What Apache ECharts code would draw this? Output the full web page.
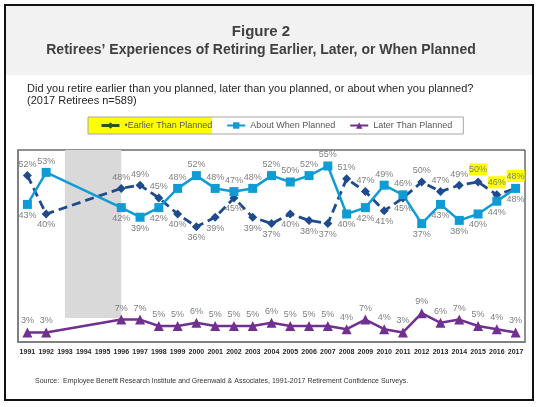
<!DOCTYPE html>
<html>
<head>
<meta charset="utf-8">
<script src="https://cdn.jsdelivr.net/npm/echarts@6/dist/echarts.min.js"></script>
<style>html,body{margin:0;padding:0;background:#fff;}#c{width:538px;height:407px;}</style>
</head>
<body>
<div id="c"></div>
<script>
const years = ['1991','1992','1993','1994','1995','1996','1997','1998','1999','2000','2001','2002','2003','2004','2005','2006','2007','2008','2009','2010','2011','2012','2013','2014','2015','2016','2017'];
const earlier = [52,40,null,null,null,48,49,45,40,36,39,45,39,37,40,38,37,51,47,41,45,50,47,49,50,46,48];
const about   = [43,53,null,null,null,42,39,42,48,52,48,47,48,52,50,52,55,40,42,49,46,37,43,38,40,44,48];
const later   = [3,3,null,null,null,7,7,5,5,6,5,5,5,6,5,5,5,4,7,4,3,9,6,7,5,4,3];
const earlierLabelPos = ['top','bottom',null,null,null,'top','top','top','bottom','bottom','bottom','bottom','bottom','bottom','bottom','bottom','bottom','top','top','bottom','bottom','top','top','top','top','top','top'];
const aboutLabelPos = ['bottom','top',null,null,null,'bottom','bottom','bottom','top','top','top','top','top','top','top','top','top','bottom','bottom','top','top','bottom','bottom','bottom','bottom','bottom','bottom'];
const highlightedEarlier = ['2015','2016','2017'];
const noDataFrom = '1993', noDataTo = '1996';
const names = ['Earlier Than Planned','About When Planned','Later Than Planned'];

const FONT = 'Liberation Sans';
const labelBase = {show:true, fontSize:9, color:'#7f7f7f', fontFamily:FONT, distance:2, formatter: p => p.value + '%'};

function build(vals, pos, hl) {
  return vals.map((v,i) => {
    if (v === null) return null;
    const item = {value:v, label:{position: pos ? pos[i] : 'top'}};
    if (hl && hl.includes(years[i])) {
      item.label.backgroundColor = '#ffff00';
      item.label.padding = [2,0,1,0];
    }
    return item;
  });
}

const chart = echarts.init(document.getElementById('c'), null, {renderer:'canvas'});
chart.setOption({
  animation:false,
  textStyle:{fontFamily:FONT},
  graphic:[
    {type:'rect', z:0, shape:{x:6,y:6,width:526,height:69}, style:{fill:'#f2f2f2'}},
    {type:'rect', z:0, shape:{x:5,y:5,width:528,height:395}, style:{fill:'none', stroke:'#111', lineWidth:2}},
    {type:'text', z:1, x:261, y:32, style:{text:'Figure 2', fill:'#404040', font:'bold 15px "Liberation Sans"', align:'center', verticalAlign:'middle'}},
    {type:'text', z:1, x:261, y:50, style:{text:"Retirees\u2019 Experiences of Retiring Earlier, Later, or When Planned", fill:'#404040', font:'bold 14px "Liberation Sans"', align:'center', verticalAlign:'middle'}},
    {type:'text', z:1, x:27, y:89, style:{text:'Did you retire earlier than you planned, later than you planned, or about when you planned?', fill:'#262626', font:'11px "Liberation Sans"', align:'left', verticalAlign:'middle'}},
    {type:'text', z:1, x:27, y:101, style:{text:'(2017 Retirees n=589)', fill:'#262626', font:'11px "Liberation Sans"', align:'left', verticalAlign:'middle'}},
    {type:'text', z:1, x:35, y:381, style:{text:'Source:  Employee Benefit Research Institute and Greenwald & Associates, 1991-2017 Retirement Confidence Surveys.', fill:'#333', font:'7px "Liberation Sans"', align:'left', verticalAlign:'middle'}},
    {type:'rect', z:0, shape:{x:88,y:117,width:124,height:17}, style:{fill:'#ffff00'}}
  ],
  legend:{
    data:[
      {name:names[0], itemStyle:{color:'#1d5a1d'}, lineStyle:{color:'#1d5a1d', type:'solid', width:3}},
      {name:names[1]},
      {name:names[2]}
    ],
    left:88, top:117, orient:'horizontal',
    itemWidth:18, itemHeight:8, itemGap:14,
    padding:[4,11,4,12],
    borderColor:'#a6a6a6', borderWidth:1,
    textStyle:{fontSize:9, color:'#595959', fontFamily:FONT},
    formatter: n => n === names[0] ? '\u2022' + n : n
  },
  grid:{left:18, right:13, top:150, bottom:65, show:true, borderColor:'#222', borderWidth:1, containLabel:false},
  xAxis:{
    type:'category', data:years, boundaryGap:true,
    axisLine:{show:true, lineStyle:{color:'#808080', width:2}},
    axisTick:{show:false},
    axisLabel:{fontSize:7, fontWeight:'bold', color:'#262626', margin:7, interval:0, fontFamily:FONT},
    splitLine:{show:false}
  },
  yAxis:{
    type:'value', min:0, max:60,
    axisLine:{show:true, lineStyle:{color:'#808080', width:2}},
    axisTick:{show:false}, axisLabel:{show:false}, splitLine:{show:false}
  },
  series:[
    {type:'line', name:'__band', data:[], z:1, silent:true,
     markArea:{silent:true, itemStyle:{color:'#d9d9d9'}, data:[[{xAxis:noDataFrom, yAxis:7.5},{xAxis:noDataTo, yAxis:60}]]}},
    {type:'line', name:names[0], data:build(earlier, earlierLabelPos, highlightedEarlier), connectNulls:true,
     symbol:'diamond', symbolSize:9, lineStyle:{color:'#1f4b8e', width:2.8, type:[9,5]}, itemStyle:{color:'#1f4b8e'},
     label:labelBase, z:3},
    {type:'line', name:names[1], data:build(about, aboutLabelPos), connectNulls:true,
     symbol:'rect', symbolSize:9, lineStyle:{color:'#0f9bd4', width:2.5}, itemStyle:{color:'#0f9bd4'},
     label:labelBase, z:3},
    {type:'line', name:names[2], data:build(later, null), connectNulls:true,
     symbol:'triangle', symbolSize:10, lineStyle:{color:'#70308f', width:2.5}, itemStyle:{color:'#70308f'},
     label:labelBase, z:3}
  ]
});
</script>
</body>
</html>
